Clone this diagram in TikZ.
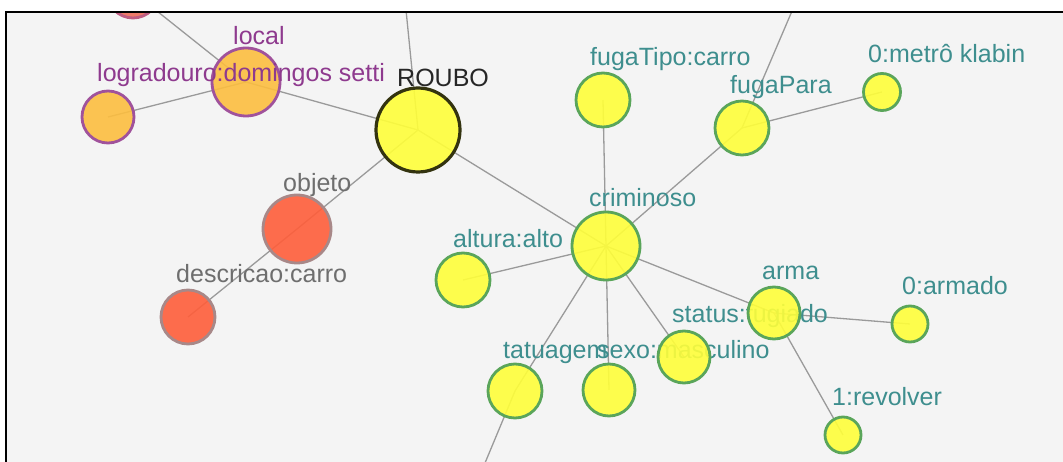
\documentclass[tikz,border=0pt]{standalone}
\usepackage{fontspec}
\setmainfont{Liberation Sans}
\definecolor{Bg}{HTML}{F4F4F4}
\definecolor{Yel}{HTML}{FFFF3A}
\definecolor{Grn}{HTML}{5AA55A}
\definecolor{Teal}{HTML}{3E8E8E}
\definecolor{Dk}{HTML}{33330F}
\definecolor{Orn}{HTML}{FCBE40}
\definecolor{Pur}{HTML}{A0529B}
\definecolor{PurT}{HTML}{8E3A8E}
\definecolor{Red}{HTML}{FF5E3A}
\definecolor{RedS}{HTML}{A88888}
\definecolor{GrT}{HTML}{6E6E6E}
\definecolor{Sal}{HTML}{EE6E5C}
\definecolor{Edg}{HTML}{9A9A9A}
\begin{document}
\begin{tikzpicture}[x=1pt,y=-1pt,
  vtx/.style={circle,inner sep=0pt,line width=2.8pt,fill opacity=0.9},
  yel/.style={vtx,fill=Yel,draw=Grn},
  orn/.style={vtx,fill=Orn,draw=Pur},
  red/.style={vtx,fill=Red,draw=RedS},
  lab/.style={anchor=base west,inner sep=0pt,font=\fontsize{25}{30}\selectfont},
  tl/.style={lab,text=Teal},
  edge/.style={draw=Edg,line width=1.3pt}]
\useasboundingbox (0,0) rectangle (1063,462);
\fill[white] (0,0) rectangle (1063,462);
\fill[Bg] (6,12) rectangle (1063,462);
\begin{scope}
\clip (6,12) rectangle (1063,462);
% positions
\coordinate (cP) at (133,-8);
\coordinate (cLoc) at (246,82);
\coordinate (cLog) at (108,117);
\coordinate (cR) at (418,130);
\coordinate (cRup) at (403,-20);
\coordinate (cObj) at (297,229);
\coordinate (cDes) at (188,317);
\coordinate (cCr) at (606,246);
\coordinate (cFT) at (603,100);
\coordinate (cFP) at (742,128);
\coordinate (cFPup) at (801,-10);
\coordinate (cMet) at (882,92);
\coordinate (cAlt) at (463,280);
\coordinate (cTat) at (515,391);
\coordinate (cTatdn) at (480,475);
\coordinate (cSex) at (609,390);
\coordinate (cSta) at (684,357);
\coordinate (cArm) at (774,313);
\coordinate (cAmd) at (910,324);
\coordinate (cRev) at (843,435);
% edges
\draw[edge] (cP) -- (cLoc);
\draw[edge] (cLoc) -- (cLog);
\draw[edge] (cLoc) -- (cR);
\draw[edge] (cR) -- (cRup);
\draw[edge] (cR) -- (cObj);
\draw[edge] (cObj) -- (cDes);
\draw[edge] (cR) -- (cCr);
\draw[edge] (cCr) -- (cFT);
\draw[edge] (cCr) -- (cFP);
\draw[edge] (cFP) -- (cFPup);
\draw[edge] (cFP) -- (cMet);
\draw[edge] (cCr) -- (cAlt);
\draw[edge] (cCr) -- (cTat);
\draw[edge] (cTat) -- (cTatdn);
\draw[edge] (cCr) -- (cSex);
\draw[edge] (cCr) -- (cSta);
\draw[edge] (cCr) -- (cArm);
\draw[edge] (cArm) -- (cAmd);
\draw[edge] (cArm) -- (cRev);
% nodes and labels
\node[vtx,fill=Sal,draw=Pur!60!Sal,minimum size=52pt] (partial) at (cP) {};
\node[orn,minimum size=68pt] (local) at (cLoc) {};
\node[lab,text=PurT] (tLoc) at (233,45) {local};
\node[orn,minimum size=52pt] (lograd) at (cLog) {};
\node[lab,text=PurT] (tLog) at (97,82) {logradouro:domingos setti};
\node[vtx,fill=Yel,draw=Dk,line width=3.2pt,minimum size=84pt] (roubo) at (cR) {};
\node[lab,text=black!85] (tR) at (397,87) {ROUBO};
\node[red,minimum size=68pt] (objeto) at (cObj) {};
\node[lab,text=GrT] (tObj) at (283,192) {objeto};
\node[red,minimum size=54pt] (descr) at (cDes) {};
\node[lab,text=GrT] (tDes) at (176,283) {descricao:carro};
\node[yel,minimum size=68pt] (crim) at (cCr) {};
\node[tl] (tCr) at (589,207) {criminoso};
\node[yel,minimum size=54pt] (fugaT) at (cFT) {};
\node[tl] (tFT) at (590,66) {fugaTipo:carro};
\node[yel,minimum size=54pt] (fugaP) at (cFP) {};
\node[tl] (tFP) at (730,94) {fugaPara};
\node[yel,minimum size=37pt] (metro) at (cMet) {};
\node[tl] (tMet) at (868,63) {0:metrô klabin};
\node[yel,minimum size=54pt] (altura) at (cAlt) {};
\node[tl] (tAlt) at (453,248) {altura:alto};
\node[yel,minimum size=54pt] (tatu) at (cTat) {};
\node[tl] (tTat) at (503,358) {tatuagem};
\node[yel,minimum size=52pt] (sexo) at (cSex) {};
\node[tl] (tSex) at (597,358) {sexo:masculino};
\node[yel,minimum size=52pt] (status) at (cSta) {};
\node[tl] (tSta) at (672,323) {status:fugiado};
\node[yel,minimum size=52pt] (arma) at (cArm) {};
\node[tl] (tArm) at (762,280) {arma};
\node[yel,minimum size=36pt] (armado) at (cAmd) {};
\node[tl] (tAmd) at (902,295) {0:armado};
\node[yel,minimum size=36pt] (revol) at (cRev) {};
\node[tl] (tRev) at (832,405) {1:revolver};
\end{scope}
\draw[line width=2pt] (6,462) -- (6,12) -- (1063,12);
\end{tikzpicture}
\end{document}
